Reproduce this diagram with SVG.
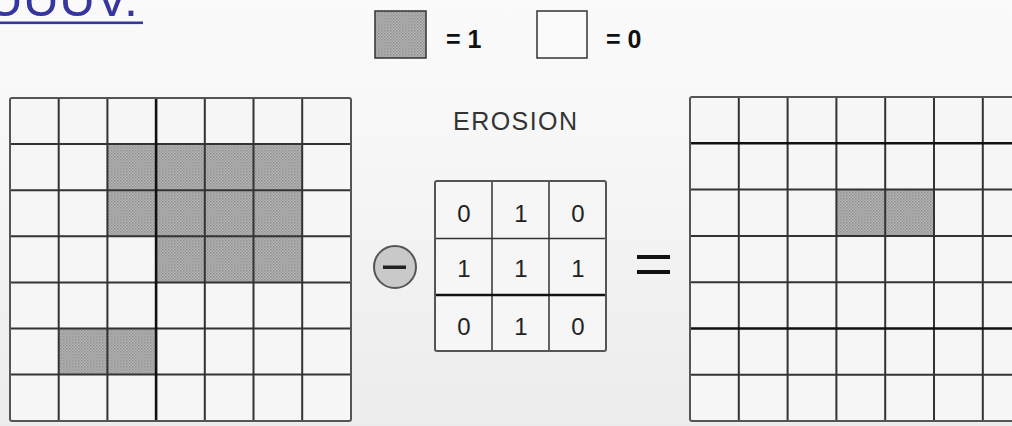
<svg xmlns="http://www.w3.org/2000/svg" width="1012" height="426" viewBox="0 0 1012 426">
  <defs>
    <linearGradient id="bg" x1="0" y1="0" x2="0" y2="1">
      <stop offset="0" stop-color="#fafafa"/>
      <stop offset="0.25" stop-color="#f8f8f8"/>
      <stop offset="1" stop-color="#ececec"/>
    </linearGradient>
    <pattern id="dots" width="3" height="3" patternUnits="userSpaceOnUse">
      <rect width="3" height="3" fill="#b5b5b5"/>
      <rect width="1.5" height="1.5" fill="#8f8f8f"/>
      <rect x="1.5" y="1.5" width="1.5" height="1.5" fill="#9c9c9c"/>
    </pattern>
    <style>
      .cell { fill: #f6f6f6; }
      .on { fill: url(#dots); }
      .grid { stroke: #333; stroke-width: 2; fill: none; }
      .kgrid { stroke: #333; stroke-width: 1.5; fill: none; }
      .thick { stroke: #111; stroke-width: 2.6; }
      .border { fill: none; stroke: #555; stroke-width: 2; }
      .num { font-family: "Liberation Sans", Arial, sans-serif; font-size: 24px; fill: #222; text-anchor: middle; }
      .leg { font-family: "Liberation Sans", Arial, sans-serif; font-size: 25px; font-weight: bold; fill: #111; }
    </style>
  </defs>
  <rect width="1012" height="426" fill="url(#bg)"/>

  <g id="link-text">
    <text x="-13" y="16" font-family="Liberation Sans, Arial, sans-serif" font-size="50" fill="#36369e">UUUV.</text>
    <rect x="0" y="21.5" width="143" height="2.6" fill="#36369e"/>
  </g>

  <g id="legend">
    <rect x="375" y="11" width="51" height="47" fill="url(#dots)" stroke="#333" stroke-width="1.5"/>
    <text class="leg" x="446" y="48">= 1</text>
    <rect x="537" y="11" width="50" height="47" fill="#fafafa" stroke="#333" stroke-width="1.5"/>
    <text class="leg" x="606" y="48">= 0</text>
  </g>

  <g id="input-grid">
    <rect x="10" y="98" width="341" height="323" class="cell"/>
    <rect class="on" x="107.4" y="144.1" width="194.8" height="92.2"/>
    <rect class="on" x="156.1" y="236.3" width="146.1" height="46.1"/>
    <rect class="on" x="58.7" y="328.5" width="97.4" height="46.1"/>
    <g class="grid">
      <path d="M58.7 98V421M107.4 98V421M204.8 98V421M253.5 98V421M302.2 98V421"/>
      <path d="M10 144.1H351M10 190.2H351M10 236.3H351M10 282.4H351M10 328.5H351M10 374.6H351"/>
    </g>
    <path class="thick" d="M156.1 98V421"/>
    <rect class="border" x="10" y="98" width="341" height="323" rx="2"/>
  </g>

  <g id="operation-label">
    <text x="515" y="130" font-family="Liberation Sans, Arial, sans-serif" font-size="25" fill="#333" text-anchor="middle" textLength="124">EROSION</text>
  </g>

  <g id="erosion-operator">
    <circle cx="395" cy="267" r="21" fill="#c9c9c9" stroke="#555" stroke-width="2"/>
    <rect x="383" y="265.5" width="23" height="3.5" fill="#222"/>
  </g>

  <g id="kernel">
    <rect x="435" y="181" width="171" height="170" fill="#f6f6f6"/>
    <g class="kgrid">
      <path d="M492 181V351M549 181V351M435 238.5H606"/>
    </g>
    <path class="thick" d="M435 295H606"/>
    <rect class="border" x="435" y="181" width="171" height="170" rx="2" stroke="#444"/>
    <text class="num" x="464" y="222">0</text>
    <text class="num" x="521" y="222">1</text>
    <text class="num" x="578" y="222">0</text>
    <text class="num" x="464" y="277">1</text>
    <text class="num" x="521" y="277">1</text>
    <text class="num" x="578" y="277">1</text>
    <text class="num" x="464" y="335">0</text>
    <text class="num" x="521" y="335">1</text>
    <text class="num" x="578" y="335">0</text>
  </g>

  <g id="equals">
    <rect x="637" y="255" width="33" height="4" fill="#111"/>
    <rect x="637" y="270" width="33" height="4" fill="#111"/>
  </g>

  <g id="output-grid">
    <rect x="690" y="97" width="340" height="324" class="cell"/>
    <rect class="on" x="836.4" y="189.6" width="97.6" height="46.3"/>
    <g class="grid">
      <path d="M738.8 97V421M787.6 97V421M836.4 97V421M885.2 97V421M934 97V421M982.8 97V421"/>
      <path d="M690 189.6H1030M690 235.9H1030M690 282.2H1030M690 374.8H1030"/>
    </g>
    <path class="thick" d="M690 143.3H1030M690 328.5H1030"/>
    <rect class="border" x="690" y="97" width="340" height="324" rx="2"/>
  </g>
</svg>
